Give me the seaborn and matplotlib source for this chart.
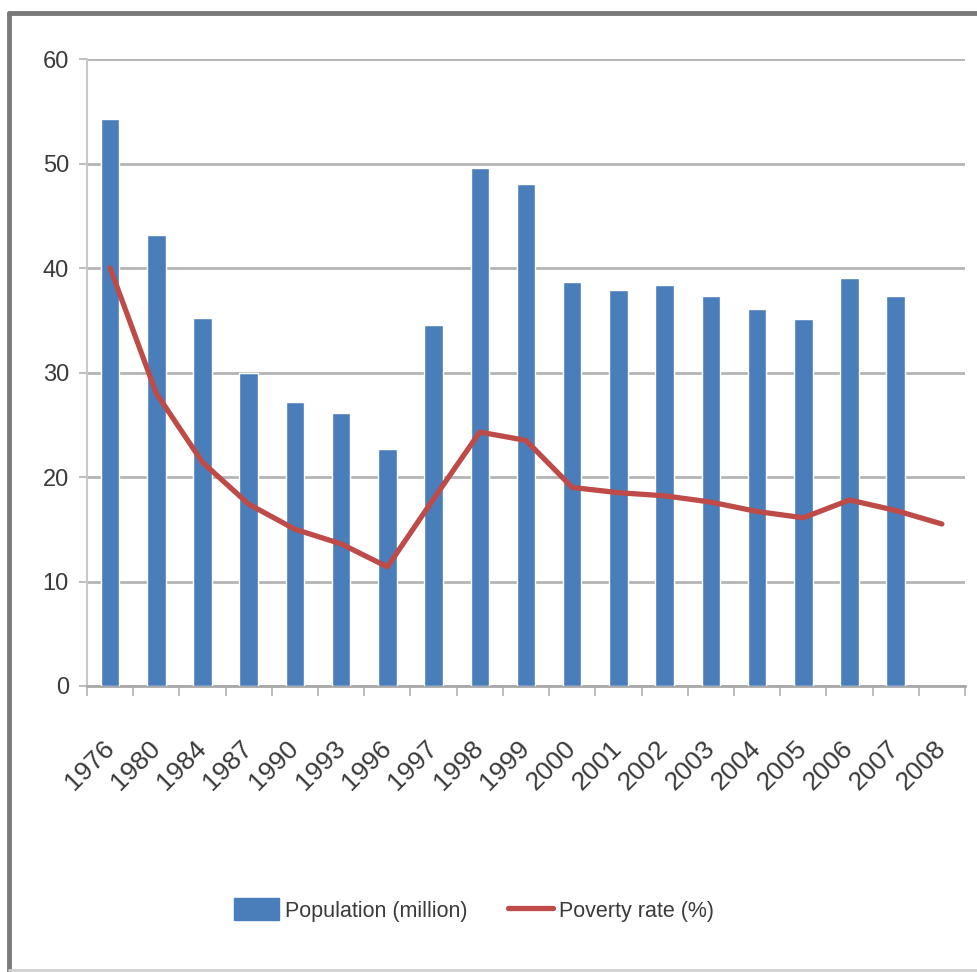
import numpy as np
import pandas as pd
import seaborn as sns
import matplotlib
matplotlib.use("Agg")
import matplotlib.pyplot as plt
from matplotlib import font_manager
from matplotlib.patches import Patch
from matplotlib.lines import Line2D

# Survey years, population below the poverty line and poverty rate
years = ["1976", "1980", "1984", "1987", "1990", "1993", "1996", "1997", "1998",
         "1999", "2000", "2001", "2002", "2003", "2004", "2005", "2006", "2007", "2008"]
population_million = [54.3, 43.2, 35.2, 30.0, 27.2, 26.1, 22.7, 34.5, 49.6,
                      48.0, 38.7, 37.9, 38.4, 37.3, 36.1, 35.1, 39.0, 37.3, np.nan]
poverty_rate = [40.0, 28.0, 21.4, 17.4, 15.0, 13.6, 11.4, 17.9, 24.3,
                23.5, 19.0, 18.5, 18.2, 17.6, 16.7, 16.1, 17.8, 16.8, 15.5]
y_ticks = [0, 10, 20, 30, 40, 50, 60]
series_labels = ["Population (million)", "Poverty rate (%)"]

BLUE = "#4a7ebb"
RED = "#be4b48"
GRID = "#b4b4b4"
TEXT = "#3a3a3a"

sns.set_theme(style="white")
installed = {f.name for f in font_manager.fontManager.ttflist}
base_font = "Liberation Sans Narrow" if "Liberation Sans Narrow" in installed else "Liberation Sans"
plt.rcParams["font.family"] = [base_font, "DejaVu Sans"]

df = pd.DataFrame({"year": years, "population": population_million, "rate": poverty_rate})

fig = plt.figure(figsize=(9.77, 9.72), dpi=100)
ax = fig.add_axes([87 / 977, 1 - 686 / 972, (965 - 87) / 977, (686 - 59) / 972])

sns.barplot(data=df, x="year", y="population", order=years, color=BLUE,
            width=0.4, saturation=1, ax=ax, zorder=3)
sns.pointplot(data=df, x="year", y="rate", order=years, color=RED,
              marker="", linestyle="-", lw=3.8, errorbar=None, ax=ax, zorder=4)

ax.set_ylim(0, 60)
ax.set_xlim(-0.5, len(years) - 0.5)
ax.set_yticks(y_ticks)
ax.set_xlabel("")
ax.set_ylabel("")

# Horizontal gridlines and axes styling
ax.yaxis.grid(True, color=GRID, lw=2.0, zorder=0)
ax.xaxis.grid(False)
ax.set_axisbelow(True)
for side in ["top", "right"]:
    ax.spines[side].set_visible(False)
ax.spines["left"].set_color("#c8c8c8")
ax.spines["left"].set_linewidth(1.5)
ax.spines["bottom"].set_color("#a8a8a8")
ax.spines["bottom"].set_linewidth(2.0)

ax.tick_params(axis="y", left=True, length=6, width=1.5, color="#c0c0c0",
               labelsize=17, labelcolor=TEXT, pad=7)
ax.set_xticks(np.arange(-0.5, len(years), 1.0), minor=True)
ax.tick_params(axis="x", which="minor", bottom=True, length=7, width=1.2, color="#b0b0b0")
ax.tick_params(axis="x", which="major", bottom=False, length=0, pad=42,
               labelsize=19, labelcolor=TEXT)
for lab in ax.get_xticklabels():
    lab.set_rotation(45)
    lab.set_rotation_mode("anchor")
    lab.set_ha("right")
    lab.set_va("center")

handles = [Patch(facecolor=BLUE, edgecolor=BLUE),
           Line2D([0], [0], color=RED, lw=3.8)]
fig.legend(handles, series_labels, loc="center", ncol=2,
           bbox_to_anchor=(474 / 977, 1 - 910 / 972), frameon=False,
           fontsize=15.5, labelcolor=TEXT, handlelength=2.1, handleheight=1.2,
           handletextpad=0.25, columnspacing=1.9)

# Frame around the chart area
fig.add_artist(Line2D([9 / 977, 1.0], [1 - 13 / 972, 1 - 13 / 972],
                      transform=fig.transFigure, color="#7a7a7a", lw=3.5))
fig.add_artist(Line2D([9 / 977, 9 / 977], [1 - 13 / 972, 0.0],
                      transform=fig.transFigure, color="#7a7a7a", lw=3.5))
fig.add_artist(Line2D([9 / 977, 1.0], [1 - 970 / 972, 1 - 970 / 972],
                      transform=fig.transFigure, color="#d0d0d0", lw=2.0))

fig.savefig("out.png", dpi=100, facecolor="white")
